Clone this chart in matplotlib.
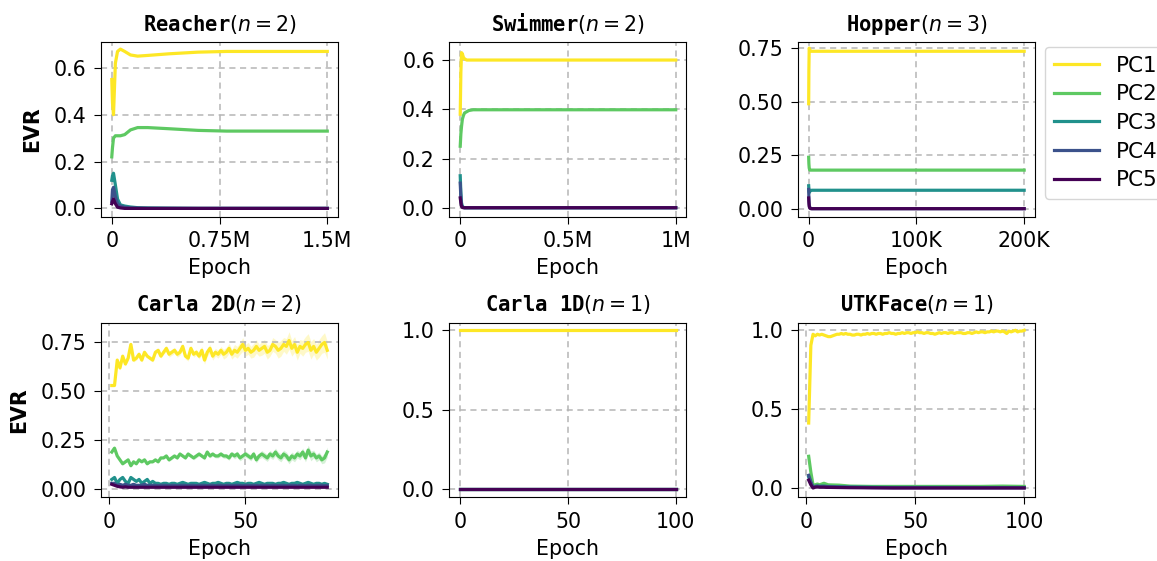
import numpy as np
import matplotlib.pyplot as plt

pc_names = ["PC1", "PC2", "PC3", "PC4", "PC5"]
pc_colors = ["#fde725", "#5ec962", "#21918c", "#3b528b", "#440154"]

# Reacher (n=2)
reacher_x = [0, 5e3, 12e3, 25e3, 40e3, 60e3, 90e3, 130e3, 180e3, 250e3, 400e3, 600e3, 800e3, 1.0e6, 1.25e6, 1.5e6]
reacher_pc1 = [0.55, 0.45, 0.40, 0.62, 0.67, 0.68, 0.67, 0.655, 0.65, 0.653, 0.66, 0.667, 0.67, 0.67, 0.67, 0.67]
reacher_pc2 = [0.22, 0.26, 0.30, 0.31, 0.31, 0.31, 0.315, 0.335, 0.345, 0.345, 0.34, 0.333, 0.33, 0.33, 0.33, 0.33]
reacher_pc3 = [0.12, 0.14, 0.15, 0.10, 0.04, 0.015, 0.01, 0.006, 0.003, 0.002, 0.001, 0, 0, 0, 0, 0]
reacher_pc4 = [0.03, 0.08, 0.09, 0.05, 0.02, 0.01, 0.005, 0.002, 0.001, 0, 0, 0, 0, 0, 0, 0]
reacher_pc5 = [0.02, 0.03, 0.04, 0.02, 0.005, 0.002, 0, 0, 0, 0, 0, 0, 0, 0, 0, 0]

# Swimmer (n=2)
swimmer_x = [0, 3e3, 6e3, 10e3, 15e3, 20e3, 30e3, 40e3, 60e3, 100e3, 200e3, 500e3, 1e6]
swimmer_pc1 = [0.38, 0.55, 0.63, 0.625, 0.61, 0.605, 0.60, 0.60, 0.60, 0.60, 0.60, 0.60, 0.60]
swimmer_pc2 = [0.25, 0.30, 0.33, 0.36, 0.375, 0.385, 0.39, 0.395, 0.398, 0.398, 0.398, 0.398, 0.398]
swimmer_pc3 = [0.13, 0.06, 0.02, 0.005, 0.002, 0, 0, 0, 0, 0, 0, 0, 0]
swimmer_pc4 = [0.10, 0.04, 0.01, 0.003, 0.001, 0, 0, 0, 0, 0, 0, 0, 0]
swimmer_pc5 = [0.04, 0.02, 0.005, 0.001, 0, 0, 0, 0, 0, 0, 0, 0, 0]

# Hopper (n=3)
hopper_x = [0, 200, 500, 1000, 2000, 3000, 5000, 10000, 50000, 100000, 150000, 200000]
hopper_pc1 = [0.49, 0.65, 0.75, 0.74, 0.735, 0.735, 0.735, 0.735, 0.735, 0.735, 0.735, 0.735]
hopper_pc2 = [0.24, 0.21, 0.19, 0.18, 0.18, 0.18, 0.18, 0.18, 0.18, 0.18, 0.18, 0.18]
hopper_pc3 = [0.107, 0.09, 0.075, 0.08, 0.085, 0.086, 0.086, 0.086, 0.086, 0.086, 0.086, 0.086]
hopper_pc4 = [0.09, 0.05, 0.02, 0.005, 0.001, 0, 0, 0, 0, 0, 0, 0]
hopper_pc5 = [0.05, 0.03, 0.01, 0.003, 0, 0, 0, 0, 0, 0, 0, 0]

# Carla 2D (n=2), epochs 1..80
carla2d_x = list(range(1, 81))
carla2d_pc1 = [0.53, 0.53, 0.66, 0.62, 0.68, 0.64, 0.67, 0.74, 0.66, 0.67,
               0.69, 0.66, 0.70, 0.68, 0.67, 0.66, 0.70, 0.71, 0.68, 0.70,
               0.72, 0.69, 0.70, 0.71, 0.69, 0.70, 0.73, 0.68, 0.67, 0.72,
               0.69, 0.70, 0.68, 0.71, 0.66, 0.70, 0.72, 0.68, 0.70, 0.69,
               0.71, 0.69, 0.70, 0.72, 0.69, 0.71, 0.70, 0.72, 0.74, 0.71,
               0.72, 0.70, 0.71, 0.73, 0.71, 0.72, 0.73, 0.70, 0.71, 0.74,
               0.73, 0.71, 0.72, 0.74, 0.73, 0.76, 0.72, 0.74, 0.70, 0.73,
               0.72, 0.74, 0.75, 0.71, 0.73, 0.70, 0.72, 0.74, 0.75, 0.71]
carla2d_pc1_std = [0.005, 0.005, 0.01, 0.01, 0.01, 0.01, 0.01, 0.01, 0.01, 0.01,
                   0.01, 0.01, 0.01, 0.01, 0.01, 0.01, 0.01, 0.01, 0.01, 0.01,
                   0.015, 0.015, 0.015, 0.015, 0.015, 0.015, 0.015, 0.015, 0.015, 0.015,
                   0.015, 0.015, 0.015, 0.02, 0.02, 0.02, 0.02, 0.02, 0.02, 0.02,
                   0.02, 0.025, 0.025, 0.025, 0.025, 0.03, 0.03, 0.03, 0.035, 0.03,
                   0.03, 0.03, 0.035, 0.035, 0.03, 0.035, 0.035, 0.035, 0.03, 0.035,
                   0.035, 0.04, 0.04, 0.035, 0.04, 0.045, 0.04, 0.04, 0.04, 0.035,
                   0.04, 0.04, 0.045, 0.045, 0.04, 0.04, 0.045, 0.045, 0.05, 0.045]
carla2d_pc2 = [0.19, 0.21, 0.17, 0.15, 0.13, 0.14, 0.15, 0.12, 0.14, 0.13,
               0.15, 0.14, 0.15, 0.13, 0.14, 0.14, 0.15, 0.14, 0.16, 0.16,
               0.17, 0.15, 0.16, 0.17, 0.16, 0.18, 0.17, 0.16, 0.18, 0.17,
               0.16, 0.17, 0.18, 0.17, 0.16, 0.19, 0.17, 0.18, 0.17, 0.17,
               0.18, 0.17, 0.17, 0.16, 0.18, 0.17, 0.18, 0.16, 0.17, 0.18,
               0.17, 0.16, 0.18, 0.15, 0.17, 0.18, 0.17, 0.16, 0.18, 0.17,
               0.19, 0.17, 0.16, 0.18, 0.17, 0.15, 0.17, 0.16, 0.18, 0.17,
               0.19, 0.16, 0.20, 0.17, 0.18, 0.16, 0.17, 0.15, 0.16, 0.19]
carla2d_pc2_std = [0.005, 0.005, 0.005, 0.005, 0.005, 0.005, 0.005, 0.005, 0.005, 0.005,
                   0.005, 0.005, 0.005, 0.005, 0.005, 0.005, 0.005, 0.005, 0.005, 0.005,
                   0.008, 0.008, 0.008, 0.008, 0.008, 0.008, 0.008, 0.008, 0.008, 0.008,
                   0.01, 0.01, 0.01, 0.01, 0.01, 0.01, 0.01, 0.01, 0.01, 0.01,
                   0.012, 0.012, 0.012, 0.012, 0.012, 0.015, 0.015, 0.015, 0.015, 0.015,
                   0.015, 0.015, 0.015, 0.015, 0.015, 0.018, 0.018, 0.018, 0.018, 0.018,
                   0.02, 0.02, 0.02, 0.02, 0.02, 0.02, 0.02, 0.02, 0.02, 0.02,
                   0.02, 0.02, 0.025, 0.025, 0.02, 0.02, 0.02, 0.02, 0.025, 0.025]
carla2d_pc3 = [0.05, 0.06, 0.03, 0.05, 0.06, 0.04, 0.03, 0.06, 0.05, 0.04,
               0.05, 0.03, 0.04, 0.05, 0.03, 0.04, 0.03, 0.03, 0.025, 0.03,
               0.03, 0.025, 0.03, 0.03, 0.025, 0.03, 0.035, 0.03, 0.025, 0.03,
               0.03, 0.03, 0.025, 0.03, 0.035, 0.03, 0.025, 0.03, 0.03, 0.035,
               0.03, 0.025, 0.03, 0.03, 0.025, 0.03, 0.035, 0.03, 0.03, 0.025,
               0.03, 0.03, 0.025, 0.03, 0.035, 0.03, 0.025, 0.03, 0.03, 0.03,
               0.025, 0.03, 0.03, 0.035, 0.03, 0.025, 0.03, 0.03, 0.035, 0.03,
               0.025, 0.03, 0.035, 0.03, 0.025, 0.03, 0.03, 0.025, 0.03, 0.025]
carla2d_pc4 = [0.03, 0.03, 0.02, 0.025, 0.02, 0.025, 0.02, 0.02, 0.025, 0.02,
               0.02, 0.02, 0.025, 0.02, 0.02, 0.02, 0.02, 0.018, 0.02, 0.02,
               0.02, 0.018, 0.02, 0.02, 0.018, 0.02, 0.02, 0.02, 0.018, 0.02,
               0.02, 0.018, 0.02, 0.02, 0.02, 0.018, 0.02, 0.02, 0.018, 0.02,
               0.02, 0.018, 0.02, 0.02, 0.018, 0.02, 0.02, 0.02, 0.018, 0.02,
               0.02, 0.018, 0.02, 0.02, 0.018, 0.02, 0.02, 0.02, 0.018, 0.02,
               0.02, 0.018, 0.02, 0.02, 0.018, 0.02, 0.02, 0.02, 0.018, 0.02,
               0.02, 0.018, 0.02, 0.02, 0.018, 0.02, 0.02, 0.02, 0.018, 0.02]
carla2d_pc5 = [0.025, 0.02, 0.015, 0.012, 0.01, 0.012, 0.01, 0.01, 0.01, 0.01,
               0.01, 0.01, 0.01, 0.01, 0.01, 0.01, 0.01, 0.01, 0.01, 0.01,
               0.01, 0.01, 0.01, 0.01, 0.01, 0.01, 0.01, 0.01, 0.01, 0.01,
               0.01, 0.01, 0.01, 0.01, 0.01, 0.01, 0.01, 0.01, 0.01, 0.01,
               0.01, 0.01, 0.01, 0.01, 0.01, 0.01, 0.01, 0.01, 0.01, 0.01,
               0.01, 0.01, 0.01, 0.01, 0.01, 0.01, 0.01, 0.01, 0.01, 0.01,
               0.01, 0.01, 0.01, 0.01, 0.01, 0.01, 0.01, 0.01, 0.01, 0.01,
               0.01, 0.01, 0.01, 0.01, 0.01, 0.01, 0.01, 0.01, 0.01, 0.01]

# Carla 1D (n=1)
carla1d_x = [0, 100]
carla1d_pc1 = [1.0, 1.0]
carla1d_pc2 = [0.0, 0.0]
carla1d_pc3 = [0.0, 0.0]
carla1d_pc4 = [0.0, 0.0]
carla1d_pc5 = [0.0, 0.0]

# UTKFace (n=1), epochs 1..100 for PC1
utk_x = list(range(1, 101))
utk_pc1 = [0.41, 0.90, 0.97, 0.96, 0.97, 0.965, 0.97, 0.965, 0.96, 0.955,
           0.955, 0.96, 0.965, 0.97, 0.97, 0.975, 0.97, 0.975, 0.97, 0.97,
           0.965, 0.965, 0.97, 0.97, 0.965, 0.97, 0.97, 0.975, 0.97, 0.975,
           0.975, 0.97, 0.975, 0.975, 0.97, 0.975, 0.975, 0.98, 0.975, 0.975,
           0.97, 0.975, 0.975, 0.98, 0.975, 0.98, 0.98, 0.975, 0.98, 0.98,
           0.985, 0.98, 0.98, 0.975, 0.98, 0.98, 0.975, 0.975, 0.97, 0.975,
           0.98, 0.975, 0.98, 0.98, 0.975, 0.98, 0.98, 0.975, 0.98, 0.98,
           0.98, 0.975, 0.975, 0.98, 0.98, 0.975, 0.98, 0.985, 0.98, 0.985,
           0.985, 0.98, 0.985, 0.985, 0.99, 0.985, 0.99, 0.99, 0.985, 0.99,
           0.985, 0.975, 0.99, 0.985, 0.99, 0.995, 0.985, 0.99, 0.99, 0.995]
utk_sparse_x = [1, 2, 3, 4, 5, 6, 7, 8, 9, 10, 15, 20, 30, 40, 60, 80, 90, 100]
utk_pc2 = [0.20, 0.10, 0.02, 0.02, 0.025, 0.02, 0.025, 0.03, 0.025, 0.02, 0.018, 0.012, 0.01, 0.01, 0.01, 0.01, 0.012, 0.01]
utk_pc3 = [0.07, 0.03, 0.01, 0.01, 0.012, 0.01, 0.012, 0.012, 0.01, 0.01, 0.008, 0.006, 0.005, 0.004, 0.004, 0.003, 0.003, 0.003]
utk_pc4 = [0.08, 0.04, 0.005, 0.01, 0.012, 0.01, 0.01, 0.01, 0.01, 0.008, 0.006, 0.005, 0.003, 0.002, 0.002, 0.002, 0.002, 0.002]
utk_pc5 = [0.05, 0.02, 0.0, 0.005, 0.006, 0.005, 0.005, 0.005, 0.004, 0.004, 0.003, 0.002, 0.001, 0.0, 0.0, 0.0, 0.0, 0.0]

FS = 14.8
plt.rcParams['font.size'] = FS

fig, axes = plt.subplots(2, 3, figsize=(11.57, 5.61), dpi=100)
fig.subplots_adjust(left=0.0873, right=0.8945, top=0.925, bottom=0.114, wspace=0.47, hspace=0.607)

panels = [
    ("Reacher", 2, [reacher_x] * 5, [reacher_pc1, reacher_pc2, reacher_pc3, reacher_pc4, reacher_pc5],
     [0, 0.75e6, 1.5e6], ["0", "0.75M", "1.5M"], [0, 0.2, 0.4, 0.6], (-0.035, 0.71)),
    ("Swimmer", 2, [swimmer_x] * 5, [swimmer_pc1, swimmer_pc2, swimmer_pc3, swimmer_pc4, swimmer_pc5],
     [0, 0.5e6, 1e6], ["0", "0.5M", "1M"], [0, 0.2, 0.4, 0.6], (-0.036, 0.673)),
    ("Hopper", 3, [hopper_x] * 5, [hopper_pc1, hopper_pc2, hopper_pc3, hopper_pc4, hopper_pc5],
     [0, 100000, 200000], ["0", "100K", "200K"], [0, 0.25, 0.5, 0.75], (-0.037, 0.778)),
    ("Carla 2D", 2, [carla2d_x] * 5, [carla2d_pc1, carla2d_pc2, carla2d_pc3, carla2d_pc4, carla2d_pc5],
     [0, 50], ["0", "50"], [0, 0.25, 0.5, 0.75], (-0.04, 0.852)),
    ("Carla 1D", 1, [carla1d_x] * 5, [carla1d_pc1, carla1d_pc2, carla1d_pc3, carla1d_pc4, carla1d_pc5],
     [0, 50, 100], ["0", "50", "100"], [0, 0.5, 1.0], (-0.05, 1.05)),
    ("UTKFace", 1, [utk_x] + [utk_sparse_x] * 4, [utk_pc1, utk_pc2, utk_pc3, utk_pc4, utk_pc5],
     [0, 50, 100], ["0", "50", "100"], [0, 0.5, 1.0], (-0.057, 1.044)),
]

for ax, (name, n, xs, ys, xt, xtl, yt, ylim) in zip(axes.flat, panels):
    for i, (x, y) in enumerate(zip(xs, ys)):
        ax.plot(x, y, color=pc_colors[i], lw=2.3, label=pc_names[i])
    if name == "Carla 2D":
        for y, s, c in [(carla2d_pc1, carla2d_pc1_std, pc_colors[0]),
                        (carla2d_pc2, carla2d_pc2_std, pc_colors[1])]:
            y = np.array(y)
            s = np.array(s)
            ax.fill_between(carla2d_x, y - s, y + s, color=c, alpha=0.25, lw=0)
    ax.set_title(name + r"$(n=%d)$" % n, fontfamily="monospace", fontweight="bold", fontsize=FS, pad=8)
    ax.set_xticks(xt)
    ax.set_xticklabels(xtl)
    ax.set_yticks(yt)
    ax.set_ylim(*ylim)
    ax.set_xlabel("Epoch", fontsize=FS, labelpad=5)
    ax.tick_params(labelsize=FS, length=5, pad=5.5)
    ax.grid(True, linestyle=(0, (4, 3)), color="#b5b5b5", lw=1.1)

for ax in axes[:, 0]:
    ax.set_ylabel("EVR", fontweight="bold", fontsize=FS, labelpad=8)

axes[0, 2].legend(loc="upper left", bbox_to_anchor=(1.042, 0.971), fontsize=15.5,
                  handlelength=2.1, labelspacing=0.4, borderaxespad=0.0)

plt.savefig("out.png", dpi=100)
